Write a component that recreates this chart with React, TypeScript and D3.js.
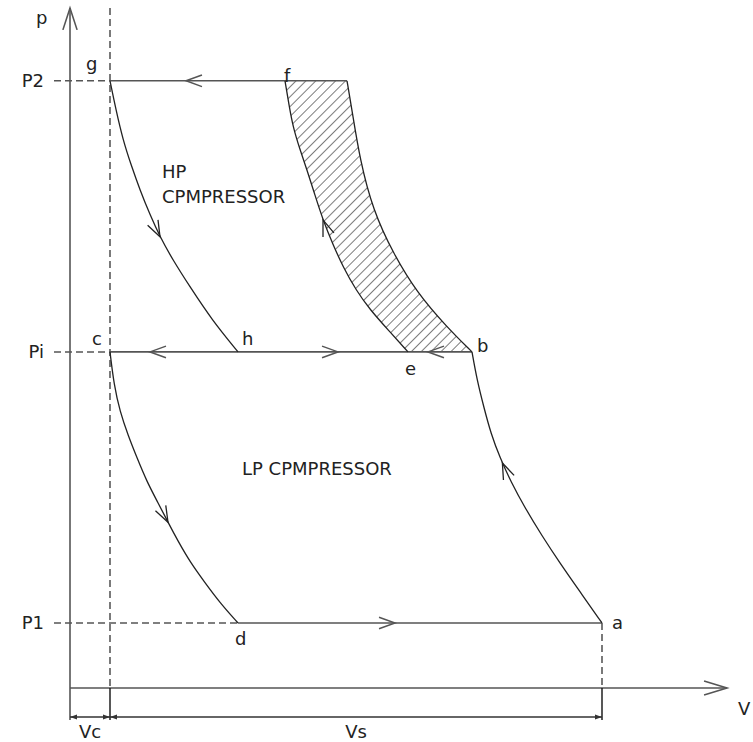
import React from "react";
import * as d3 from "d3";

type Pt = [number, number]; // [volume, pressure]

// Pressure levels (in units of P1)
const P1 = 1.0;
const PI = 5.17;
const P2 = 9.34;

// Volumes (in units of clearance volume)
const V_C = 1.0;
const V_A = 13.3;
const V_D = 4.2;
const V_H = 4.2;
const V_E = 8.45;
const V_B = 10.05;
const V_F = 5.375;
const V_T = 6.925; // end of single-stage compression at P2

const pressureLabels = [
  { label: "P1", p: P1 },
  { label: "Pi", p: PI },
  { label: "P2", p: P2 },
];

// a -> b : LP compression
const lpCompression: Pt[] = [
  [13.3, 1.0], [12.75, 1.48], [12.25, 1.92], [11.8, 2.34], [11.375, 2.77], [11.025, 3.17],
  [10.75, 3.54], [10.525, 3.91], [10.35, 4.31], [10.175, 4.74], [10.05, 5.17],
];
// c -> d : LP re-expansion of clearance gas
const lpExpansion: Pt[] = [
  [1.0, 5.17], [1.1, 4.66], [1.25, 4.25], [1.45, 3.89], [1.675, 3.54], [1.925, 3.17],
  [2.2, 2.85], [2.45, 2.55], [2.7, 2.26], [3.0, 1.94], [3.375, 1.62], [3.75, 1.31], [4.2, 1.0],
];
// e -> f : HP compression
const hpCompression: Pt[] = [
  [8.45, 5.17], [7.95, 5.51], [7.5, 5.82], [7.15, 6.12], [6.825, 6.48], [6.575, 6.82],
  [6.325, 7.2], [6.125, 7.58], [5.925, 7.97], [5.75, 8.28], [5.575, 8.63], [5.475, 8.97], [5.375, 9.34],
];
// g -> h : HP re-expansion of clearance gas
const hpExpansion: Pt[] = [
  [1.0, 9.34], [1.15, 8.89], [1.325, 8.43], [1.525, 8.05], [1.75, 7.66], [2.0, 7.28],
  [2.25, 6.94], [2.575, 6.58], [3.0, 6.17], [3.55, 5.66], [4.2, 5.17],
];
// b -> t : single-stage compression carried on to P2
const singleStage: Pt[] = [
  [10.05, 5.17], [9.425, 5.55], [8.675, 6.08], [8.075, 6.69], [7.575, 7.35],
  [7.25, 8.12], [7.05, 8.89], [6.925, 9.34],
];

// Point labels of the cycle
const stateLabels = [
  { text: "g", v: V_C, p: P2 },
  { text: "f", v: V_F, p: P2 },
  { text: "c", v: V_C, p: PI },
  { text: "h", v: V_H, p: PI },
  { text: "e", v: V_E, p: PI },
  { text: "b", v: V_B, p: PI },
  { text: "d", v: V_D, p: P1 },
  { text: "a", v: V_A, p: P1 },
];

// Direction arrows on the curved processes (placed by pressure)
const curveArrows = [
  { curve: hpExpansion, p: 6.94 },
  { curve: lpExpansion, p: 2.55 },
  { curve: lpCompression, p: 3.46 },
  { curve: hpCompression, p: 7.2 },
];
// Direction arrows on the constant-pressure lines (placed by volume)
const lineArrows = [
  { p: P2, v: 2.9, dir: -1 },
  { p: PI, v: 2.0, dir: -1 },
  { p: PI, v: 6.7, dir: 1 },
  { p: PI, v: 8.95, dir: -1 },
  { p: P1, v: 8.125, dir: 1 },
];

const W = 753;
const H = 742;
const FONT = "'DejaVu Sans', Verdana, sans-serif";

const x = d3.scaleLinear().domain([0, 16.425]).range([70, 727]);
const y = d3.scaleLinear().domain([0, 10.46]).range([688, 8]);

const curveLine = d3
  .line<Pt>()
  .x((d) => x(d[0]))
  .y((d) => y(d[1]))
  .curve(d3.curveBasis);

function volumeAt(curve: Pt[], p: number): number {
  for (let i = 0; i < curve.length - 1; i++) {
    const [v0, p0] = curve[i];
    const [v1, p1] = curve[i + 1];
    if ((p - p0) * (p - p1) <= 0) {
      const t = p1 === p0 ? 0 : (p - p0) / (p1 - p0);
      return v0 + t * (v1 - v0);
    }
  }
  return curve[curve.length - 1][0];
}

// Open arrowhead with its tip at (tx, ty), pointing along (dx, dy)
function chevron(tx: number, ty: number, dx: number, dy: number, len = 17, ang = 20) {
  const n = Math.hypot(dx, dy) || 1;
  const ux = dx / n;
  const uy = dy / n;
  const a = (ang * Math.PI) / 180;
  const arm = (s: number) => {
    const c = Math.cos(s * a);
    const sn = Math.sin(s * a);
    const vx = -ux * c + uy * sn;
    const vy = -uy * c - ux * sn;
    return [tx + vx * len, ty + vy * len];
  };
  const [ax, ay] = arm(1);
  const [bx, by] = arm(-1);
  return `M${ax},${ay}L${tx},${ty}L${bx},${by}`;
}

function curveArrowPath(curve: Pt[], p: number) {
  const rising = curve[curve.length - 1][1] > curve[0][1];
  const d = 0.15;
  const pA = rising ? p - d : p + d;
  const pB = rising ? p + d : p - d;
  const xa = x(volumeAt(curve, pA));
  const ya = y(pA);
  const xb = x(volumeAt(curve, pB));
  const yb = y(pB);
  const tx = x(volumeAt(curve, p));
  const ty = y(p);
  return chevron(tx, ty, xb - xa, yb - ya);
}

function dimArrow(tx: number, ty: number, dir: number) {
  const L = 7;
  const h = 2.5;
  return `M${tx},${ty}L${tx - dir * L},${ty - h}L${tx - dir * L},${ty + h}Z`;
}

const labelOffsets: Record<string, [number, number]> = {
  g: [-24, -11],
  f: [-1, 1],
  c: [-18, -7],
  h: [4, -7],
  e: [-3, 23],
  b: [5, 0],
  d: [-3, 22],
  a: [10, 6],
};

export default function App() {
  const axisColor = "#555";
  const lineColor = "#555";
  const curveColor = "#222";
  const textColor = "#222";
  const dash = "7,4";
  const dimY = 717;
  const xAxisY = y(0);

  const hatchPath =
    `M${x(V_F)},${y(P2)}L${x(V_T)},${y(P2)}` +
    (curveLine(singleStage.slice().reverse()) || "").replace(/^M/, "L") +
    `L${x(V_E)},${y(PI)}` +
    (curveLine(hpCompression) || "").replace(/^M/, "L") +
    "Z";

  return (
    <svg
      width={W}
      height={H}
      style={{ position: "absolute", left: 0, top: 0, background: "#fff" }}
      fontFamily={FONT}
    >
      <defs>
        <pattern
          id="hatch"
          width={7}
          height={10}
          patternUnits="userSpaceOnUse"
          patternTransform="rotate(45)"
        >
          <line x1={0} y1={0} x2={0} y2={10} stroke="#222" strokeWidth={1.2} />
        </pattern>
      </defs>
      <rect x={0} y={0} width={W} height={H} fill="#fff" />

      {/* saved work between the single-stage and two-stage compression */}
      <path d={hatchPath} fill="url(#hatch)" stroke="none" />

      {/* axes */}
      <line x1={x(0)} y1={y(10.46)} x2={x(0)} y2={dimY + 3} stroke={axisColor} strokeWidth={1.6} />
      <line x1={x(0)} y1={xAxisY} x2={x(16.425)} y2={xAxisY} stroke={axisColor} strokeWidth={1.6} />
      <path d={chevron(x(0), y(10.46), 0, -1, 23, 18)} fill="none" stroke={axisColor} strokeWidth={1.6} />
      <path d={chevron(x(16.425), xAxisY, 1, 0, 24, 17)} fill="none" stroke={axisColor} strokeWidth={1.6} />

      {/* guide lines */}
      <line x1={x(V_C)} y1={y(10.46)} x2={x(V_C)} y2={xAxisY} stroke={curveColor} strokeWidth={1.2} strokeDasharray={dash} />
      <line x1={x(V_A)} y1={y(P1)} x2={x(V_A)} y2={xAxisY} stroke={curveColor} strokeWidth={1.2} strokeDasharray={dash} />
      <line x1={54} y1={y(P2)} x2={x(V_C)} y2={y(P2)} stroke={lineColor} strokeWidth={1.5} strokeDasharray={dash} />
      <line x1={54} y1={y(PI)} x2={x(V_C)} y2={y(PI)} stroke={lineColor} strokeWidth={1.5} strokeDasharray={dash} />
      <line x1={54} y1={y(P1)} x2={x(V_D)} y2={y(P1)} stroke={lineColor} strokeWidth={1.5} strokeDasharray={dash} />

      {/* dimension lines Vc and Vs */}
      <line x1={x(V_C)} y1={xAxisY} x2={x(V_C)} y2={dimY + 3} stroke="#111" strokeWidth={1.4} />
      <line x1={x(V_A)} y1={xAxisY} x2={x(V_A)} y2={dimY + 3} stroke="#111" strokeWidth={1.4} />
      <line x1={x(0)} y1={dimY} x2={x(V_A)} y2={dimY} stroke="#333" strokeWidth={1.3} />
      <path d={dimArrow(x(0), dimY, -1)} fill="#333" />
      <path d={dimArrow(x(V_C), dimY, 1)} fill="#333" />
      <path d={dimArrow(x(V_C), dimY, -1)} fill="#333" />
      <path d={dimArrow(x(V_A), dimY, 1)} fill="#333" />

      {/* constant-pressure processes */}
      <line x1={x(V_C)} y1={y(P2)} x2={x(V_T)} y2={y(P2)} stroke={lineColor} strokeWidth={1.6} />
      <line x1={x(V_C)} y1={y(PI)} x2={x(V_B)} y2={y(PI)} stroke={lineColor} strokeWidth={1.6} />
      <line x1={x(V_D)} y1={y(P1)} x2={x(V_A)} y2={y(P1)} stroke={lineColor} strokeWidth={1.6} />

      {/* compression and expansion curves */}
      {[lpCompression, lpExpansion, hpCompression, hpExpansion, singleStage].map((c, i) => (
        <path key={i} d={curveLine(c) || ""} fill="none" stroke={curveColor} strokeWidth={1.3} />
      ))}

      {/* direction arrows */}
      {curveArrows.map((a, i) => (
        <path key={`ca${i}`} d={curveArrowPath(a.curve, a.p)} fill="none" stroke={curveColor} strokeWidth={1.3} />
      ))}
      {lineArrows.map((a, i) => (
        <path key={`la${i}`} d={chevron(x(a.v), y(a.p), a.dir, 0)} fill="none" stroke={lineColor} strokeWidth={1.5} />
      ))}

      {/* text */}
      <g fill={textColor} fontSize={18}>
        <text x={36} y={24}>p</text>
        <text x={738} y={715}>V</text>
        {pressureLabels.map((d) => (
          <text key={d.label} x={44} y={y(d.p) + 6.5} textAnchor="end">
            {d.label}
          </text>
        ))}
        {stateLabels.map((d) => {
          const [ox, oy] = labelOffsets[d.text];
          return (
            <text key={d.text} x={x(d.v) + ox} y={y(d.p) + oy}>
              {d.text}
            </text>
          );
        })}
        <text x={162} y={178}>HP</text>
        <text x={162} y={203}>CPMPRESSOR</text>
        <text x={242} y={475}>LP CPMPRESSOR</text>
        <text x={(x(0) + x(V_C)) / 2} y={738} textAnchor="middle">Vc</text>
        <text x={(x(V_C) + x(V_A)) / 2} y={738} textAnchor="middle">Vs</text>
      </g>
    </svg>
  );
}
